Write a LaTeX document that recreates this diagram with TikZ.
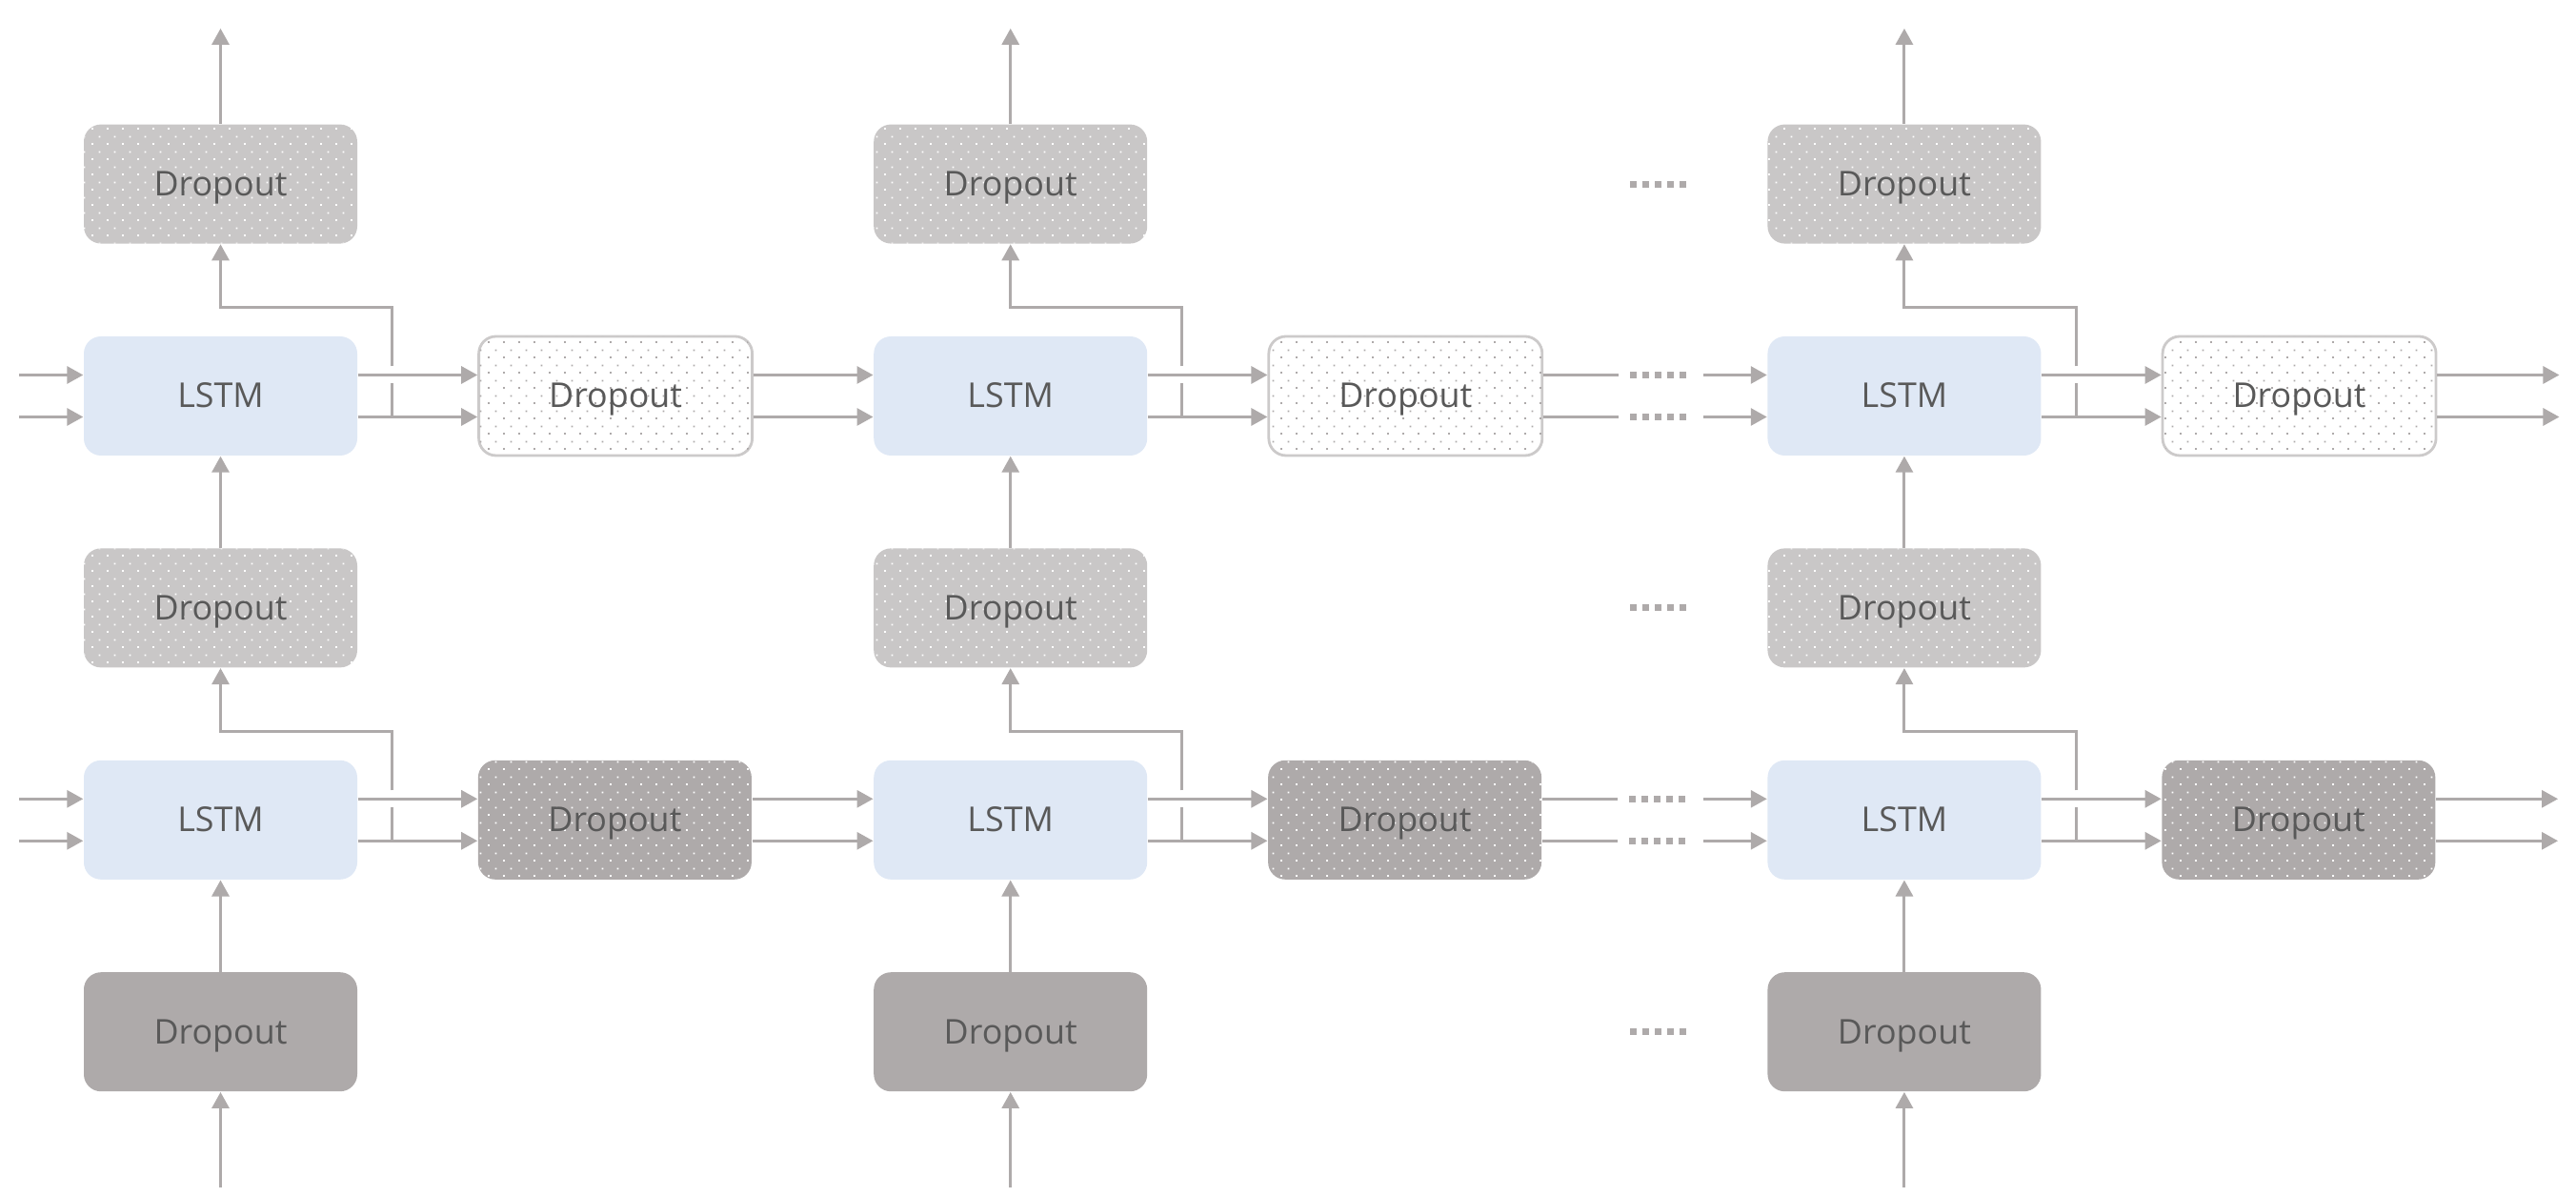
\documentclass[tikz,border=0pt]{standalone}
\usepackage{fontspec}
\setmainfont{Open Sans}
\usepackage{tikz}
\usetikzlibrary{arrows.meta,positioning,calc,patterns.meta}

\definecolor{wiregray}{HTML}{AEAAAA}
\definecolor{cellblue}{HTML}{DFE8F5}
\definecolor{labelgray}{HTML}{595959}
\definecolor{rimgray}{HTML}{CCCACA}
\definecolor{checkgray}{HTML}{C9C7C7}

\tikzdeclarepattern{
  name=sparsedots,
  type=uncolored,
  bottom left={(0cm,0cm)},
  top right={(0.16cm,0.16cm)},
  tile size={(0.16cm,0.16cm)},
  code={
    \fill (0cm,0cm) rectangle (0.02cm,0.02cm);
    \fill (0.08cm,0.08cm) rectangle (0.10cm,0.10cm);
  }
}

\begin{document}
\begin{tikzpicture}[
    box/.style={rounded corners=1.8mm, minimum width=2.87cm, minimum height=1.25cm, inner sep=0pt, text height=0.25cm, text depth=0pt, font=\fontsize{10.2}{12}\selectfont, text=labelgray},
    cell/.style={box, fill=cellblue},
    dropin/.style={box, fill=wiregray},
    dropup/.style={box, fill=checkgray, postaction={pattern=sparsedots, pattern color=white}},
    dropside/.style={box, draw=rimgray, line width=0.8pt, fill=white, postaction={pattern=sparsedots, pattern color=wiregray}},
    dropdark/.style={box, fill=wiregray, postaction={pattern=sparsedots, pattern color=white}},
    wire/.style={draw=wiregray, line width=0.85pt},
    link/.style={wire, -{Triangle[length=1.7mm, width=1.8mm]}},
    gapdots/.style={draw=wiregray, line width=0.7mm, dash pattern=on 0.7mm off 0.6mm},
    node distance=0.96cm and 1.255cm,
  ]
  \useasboundingbox (0,0) rectangle (27.04,12.56);

  % Upper LSTM row
  \node[cell] (l1) at (2.315,8.405) {LSTM};
  \node[dropside, right=of l1] (d1) {Dropout};
  \node[cell, right=of d1] (l2) {LSTM};
  \node[dropside, right=of l2] (d2) {Dropout};
  \node[cell, right=2.345cm of d2] (l3) {LSTM};
  \node[dropside, right=of l3] (d3) {Dropout};

  % Dropouts above and below
  \node[dropup, above=of l1] (t1) {Dropout};
  \node[dropup, above=of l2] (t2) {Dropout};
  \node[dropup, above=of l3] (t3) {Dropout};
  \node[dropup, below=of l1] (m1) {Dropout};
  \node[dropup, below=of l2] (m2) {Dropout};
  \node[dropup, below=of l3] (m3) {Dropout};

  % Lower LSTM row
  \node[cell, below=of m1] (k1) {LSTM};
  \node[cell, below=of m2] (k2) {LSTM};
  \node[cell, below=of m3] (k3) {LSTM};
  \node[dropdark, right=of k1] (e1) {Dropout};
  \node[dropdark, right=of k2] (e2) {Dropout};
  \node[dropdark, right=of k3] (e3) {Dropout};

  % Input dropouts
  \node[dropin, below=of k1] (b1) {Dropout};
  \node[dropin, below=of k2] (b2) {Dropout};
  \node[dropin, below=of k3] (b3) {Dropout};

  % Column 1
  \draw[link] ([yshift=-10mm]b1.south) -- (b1);
  \draw[link] (b1) -- (k1);
  \draw[link] (m1) -- (l1);
  \draw[link] (t1) -- ([yshift=10mm]t1.north);
  \draw[link] ([shift={(-6.7mm,2.2mm)}]l1.west) -- ([yshift=2.2mm]l1.west);
  \draw[link] ([shift={(-6.7mm,-2.2mm)}]l1.west) -- ([yshift=-2.2mm]l1.west);
  \draw[link] ([shift={(-6.7mm,2.2mm)}]k1.west) -- ([yshift=2.2mm]k1.west);
  \draw[link] ([shift={(-6.7mm,-2.2mm)}]k1.west) -- ([yshift=-2.2mm]k1.west);
  \draw[link] ([yshift=2.2mm]l1.east) -- ([yshift=2.2mm]d1.west);
  \draw[link] ([yshift=-2.2mm]l1.east) -- ([yshift=-2.2mm]d1.west);
  \draw[link] ([yshift=2.2mm]k1.east) -- ([yshift=2.2mm]e1.west);
  \draw[link] ([yshift=-2.2mm]k1.east) -- ([yshift=-2.2mm]e1.west);
  \draw[wire] ([xshift=3.6mm,yshift=-2.2mm]l1.east) -- ([xshift=3.6mm,yshift=1.3mm]l1.east);
  \draw[link] ([xshift=3.6mm,yshift=3.1mm]l1.east) |- ([yshift=3mm]l1.north) -- (t1);
  \draw[wire] ([xshift=3.6mm,yshift=-2.2mm]k1.east) -- ([xshift=3.6mm,yshift=1.3mm]k1.east);
  \draw[link] ([xshift=3.6mm,yshift=3.1mm]k1.east) |- ([yshift=3mm]k1.north) -- (m1);

  % Column 1 to column 2
  \draw[link] ([yshift=2.2mm]d1.east) -- ([yshift=2.2mm]l2.west);
  \draw[link] ([yshift=-2.2mm]d1.east) -- ([yshift=-2.2mm]l2.west);
  \draw[link] ([yshift=2.2mm]e1.east) -- ([yshift=2.2mm]k2.west);
  \draw[link] ([yshift=-2.2mm]e1.east) -- ([yshift=-2.2mm]k2.west);

  % Column 2
  \draw[link] ([yshift=-10mm]b2.south) -- (b2);
  \draw[link] (b2) -- (k2);
  \draw[link] (m2) -- (l2);
  \draw[link] (t2) -- ([yshift=10mm]t2.north);
  \draw[link] ([yshift=2.2mm]l2.east) -- ([yshift=2.2mm]d2.west);
  \draw[link] ([yshift=-2.2mm]l2.east) -- ([yshift=-2.2mm]d2.west);
  \draw[link] ([yshift=2.2mm]k2.east) -- ([yshift=2.2mm]e2.west);
  \draw[link] ([yshift=-2.2mm]k2.east) -- ([yshift=-2.2mm]e2.west);
  \draw[wire] ([xshift=3.6mm,yshift=-2.2mm]l2.east) -- ([xshift=3.6mm,yshift=1.3mm]l2.east);
  \draw[link] ([xshift=3.6mm,yshift=3.1mm]l2.east) |- ([yshift=3mm]l2.north) -- (t2);
  \draw[wire] ([xshift=3.6mm,yshift=-2.2mm]k2.east) -- ([xshift=3.6mm,yshift=1.3mm]k2.east);
  \draw[link] ([xshift=3.6mm,yshift=3.1mm]k2.east) |- ([yshift=3mm]k2.north) -- (m2);

  % Column 2 to column 3, with the gap
  \draw[wire] ([yshift=2.2mm]d2.east) -- ++(0.79,0);
  \draw[wire] ([yshift=-2.2mm]d2.east) -- ++(0.79,0);
  \draw[wire] ([yshift=2.2mm]e2.east) -- ++(0.79,0);
  \draw[wire] ([yshift=-2.2mm]e2.east) -- ++(0.79,0);
  \draw[gapdots] ([shift={(0.91,0.22)}]d2.east) -- ++(0.59,0);
  \draw[gapdots] ([shift={(0.91,-0.22)}]d2.east) -- ++(0.59,0);
  \draw[gapdots] ([shift={(0.91,0.22)}]e2.east) -- ++(0.59,0);
  \draw[gapdots] ([shift={(0.91,-0.22)}]e2.east) -- ++(0.59,0);
  \draw[gapdots] ($(t2 -| d2.east)+(0.91,0)$) -- ++(0.59,0);
  \draw[gapdots] ($(m2 -| d2.east)+(0.91,0)$) -- ++(0.59,0);
  \draw[gapdots] ($(b2 -| d2.east)+(0.91,0)$) -- ++(0.59,0);
  \draw[link] ([shift={(-6.7mm,2.2mm)}]l3.west) -- ([yshift=2.2mm]l3.west);
  \draw[link] ([shift={(-6.7mm,-2.2mm)}]l3.west) -- ([yshift=-2.2mm]l3.west);
  \draw[link] ([shift={(-6.7mm,2.2mm)}]k3.west) -- ([yshift=2.2mm]k3.west);
  \draw[link] ([shift={(-6.7mm,-2.2mm)}]k3.west) -- ([yshift=-2.2mm]k3.west);

  % Column 3
  \draw[link] ([yshift=-10mm]b3.south) -- (b3);
  \draw[link] (b3) -- (k3);
  \draw[link] (m3) -- (l3);
  \draw[link] (t3) -- ([yshift=10mm]t3.north);
  \draw[link] ([yshift=2.2mm]l3.east) -- ([yshift=2.2mm]d3.west);
  \draw[link] ([yshift=-2.2mm]l3.east) -- ([yshift=-2.2mm]d3.west);
  \draw[link] ([yshift=2.2mm]k3.east) -- ([yshift=2.2mm]e3.west);
  \draw[link] ([yshift=-2.2mm]k3.east) -- ([yshift=-2.2mm]e3.west);
  \draw[wire] ([xshift=3.6mm,yshift=-2.2mm]l3.east) -- ([xshift=3.6mm,yshift=1.3mm]l3.east);
  \draw[link] ([xshift=3.6mm,yshift=3.1mm]l3.east) |- ([yshift=3mm]l3.north) -- (t3);
  \draw[wire] ([xshift=3.6mm,yshift=-2.2mm]k3.east) -- ([xshift=3.6mm,yshift=1.3mm]k3.east);
  \draw[link] ([xshift=3.6mm,yshift=3.1mm]k3.east) |- ([yshift=3mm]k3.north) -- (m3);
  \draw[link] ([yshift=2.2mm]d3.east) -- ++(1.28,0);
  \draw[link] ([yshift=-2.2mm]d3.east) -- ++(1.28,0);
  \draw[link] ([yshift=2.2mm]e3.east) -- ++(1.28,0);
  \draw[link] ([yshift=-2.2mm]e3.east) -- ++(1.28,0);
\end{tikzpicture}
\end{document}
